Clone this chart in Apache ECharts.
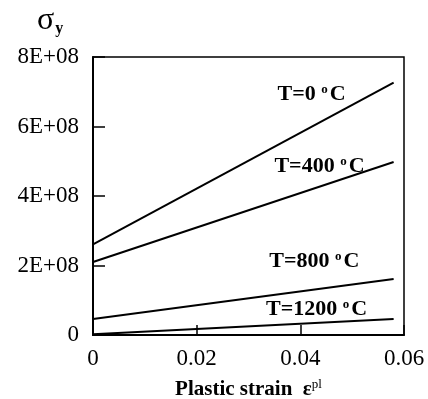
<!DOCTYPE html>
<html><head><meta charset="utf-8">
<script src="https://cdn.jsdelivr.net/npm/echarts@6/dist/echarts.min.js"></script>
<style>html,body{margin:0;padding:0;background:#fff}#c{width:428px;height:399px}</style>
</head><body><div id="c"></div>
<script>
const seriesNames = ['T=0', 'T=400', 'T=800', 'T=1200'];
const strainX = [0, 0.058];
const stress0 = [2.61e8, 7.26e8];
const stress400 = [2.1e8, 4.98e8];
const stress800 = [0.46e8, 1.61e8];
const stress1200 = [0.02e8, 0.46e8];
const xTicks = [0, 0.02, 0.04, 0.06];
const yTicks = [0, 2e8, 4e8, 6e8, 8e8];
// label anchors (data coords)
const labelAnchors = [[0.0356, 6.94e8], [0.0350, 4.86e8], [0.0340, 2.12e8], [0.0334, 0.74e8]];

const allValues = [stress0, stress400, stress800, stress1200];
const FONT = '"Liberation Serif", "Times New Roman", serif';

function yFmt(v) {
  if (v === 0) return '0';
  const e = Math.floor(Math.log10(v));
  const m = Math.round(v / Math.pow(10, e));
  return m + 'E+' + String(e).padStart(2, '0');
}

const series = allValues.map((vals, i) => ({
  type: 'line',
  name: seriesNames[i],
  data: strainX.map((x, j) => [x, vals[j]]),
  showSymbol: false,
  lineStyle: { color: '#000', width: 2 },
  silent: true,
  markPoint: {
    symbol: 'circle', symbolSize: 0, silent: true,
    data: [{ coord: labelAnchors[i] }],
    label: {
      show: true, position: 'right', distance: 0,
      formatter: '{a|' + seriesNames[i] + ' }{s|o}{a|C}',
      rich: {
        a: { fontFamily: FONT, fontWeight: 'bold', fontSize: 22, color: '#000' },
        s: { fontFamily: FONT, fontWeight: 'bold', fontSize: 13, color: '#000', verticalAlign: 'top', padding: [0, 2, 9, 0] }
      }
    }
  }
}));

const chart = echarts.init(document.getElementById('c'), null, { renderer: 'canvas' });
chart.setOption({
  animation: false,
  backgroundColor: '#fff',
  grid: { left: 93, right: 24, top: 57, bottom: 64, outerBoundsMode: 'none', containLabel: false,
    show: true, borderColor: '#000', borderWidth: 1.5, backgroundColor: 'transparent' },
  title: {
    text: '{s|σ}{y|y}', left: 32, top: 0,
    textStyle: { fontWeight: 'normal', rich: {
      s: { fontFamily: FONT, fontSize: 32, fontWeight: 'normal', color: '#000' },
      y: { fontFamily: FONT, fontSize: 16, fontWeight: 'bold', color: '#000', verticalAlign: 'bottom', padding: [16, 0, 0, 1] }
    } }
  },
  xAxis: {
    type: 'value', min: 0, max: 0.06, interval: 0.02,
    axisLine: { show: true, onZero: false, lineStyle: { color: '#000', width: 2 } },
    axisTick: { show: true, inside: true, length: 10, lineStyle: { color: '#000', width: 1.5 } },
    splitLine: { show: false },
    axisLabel: { margin: 12, fontFamily: FONT, fontSize: 23, color: '#000',
      formatter: v => { const t = xTicks.find(x => Math.abs(x - v) < 1e-9); return t === 0 ? '0' : String(t); } },
    name: '{b|Plastic strain  ε}{p|pl}', nameLocation: 'middle', nameGap: 43,
    nameTextStyle: { rich: {
      b: { fontFamily: FONT, fontWeight: 'bold', fontSize: 21, color: '#000' },
      p: { fontFamily: FONT, fontSize: 13, color: '#000', verticalAlign: 'top', padding: [0, 0, 10, 0] }
    } }
  },
  yAxis: {
    type: 'value', min: 0, max: 8e8, interval: 2e8,
    axisLine: { show: true, lineStyle: { color: '#000', width: 2 } },
    axisTick: { show: true, inside: true, length: 12, lineStyle: { color: '#000', width: 1.5 } },
    splitLine: { show: false },
    axisLabel: { margin: 14, fontFamily: FONT, fontSize: 23, color: '#000',
      formatter: v => yFmt(yTicks.find(y => Math.abs(y - v) < 1) ?? v) }
  },
  series
});
</script></body></html>
